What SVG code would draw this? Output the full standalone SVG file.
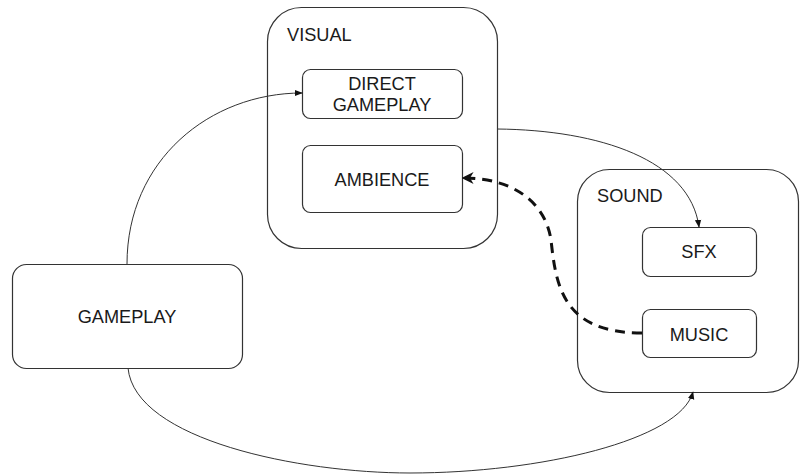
<svg xmlns="http://www.w3.org/2000/svg" width="800" height="475" viewBox="0 0 800 475">
<defs>
<marker id="arr" viewBox="0 0 10 10" refX="9" refY="5" markerWidth="8" markerHeight="8" markerUnits="userSpaceOnUse" orient="auto">
<path d="M0,1 L10,5 L0,9 Z" fill="#111"/>
</marker>
<marker id="arrb" viewBox="0 0 10 10" refX="8" refY="5" markerWidth="4" markerHeight="4" orient="auto">
<path d="M0,0 L10,5 L0,10 L3,5 Z" fill="#111"/>
</marker>
</defs>
<style>
.box{fill:#fff;stroke:#333;stroke-width:1.2}
.t{font-family:"Liberation Sans",Arial,sans-serif;font-size:18.2px;fill:#1a1a1a}
.c{text-anchor:middle}
.ln{fill:none;stroke:#333;stroke-width:1}
.dash{fill:none;stroke:#111;stroke-width:3;stroke-dasharray:10 7}
</style>
<g id="visual">
<rect class="box" x="267.5" y="7.5" width="230" height="241" rx="34"/>
<text class="t" x="287" y="41">VISUAL</text>
</g>
<g id="direct-gameplay">
<rect class="box" x="302.5" y="69.5" width="160" height="49" rx="8"/>
<text class="t c" x="382" y="90">DIRECT</text>
<text class="t c" x="382" y="111">GAMEPLAY</text>
</g>
<g id="ambience">
<rect class="box" x="302.5" y="145.5" width="160" height="67" rx="8"/>
<text class="t c" x="382" y="186">AMBIENCE</text>
</g>
<g id="sound">
<rect class="box" x="577.5" y="169.5" width="221" height="223" rx="32"/>
<text class="t" x="597" y="202">SOUND</text>
</g>
<g id="sfx">
<rect class="box" x="642.5" y="227.5" width="114" height="49" rx="8"/>
<text class="t c" x="699" y="258">SFX</text>
</g>
<g id="music">
<rect class="box" x="642.5" y="309.5" width="114" height="48" rx="8"/>
<text class="t c" x="699" y="341">MUSIC</text>
</g>
<g id="gameplay">
<rect class="box" x="12.5" y="264.5" width="230" height="104" rx="14"/>
<text class="t c" x="127" y="323">GAMEPLAY</text>
</g>
<g id="connectors">
<path class="ln" d="M127,264 C127,160 210,93 302,93" marker-end="url(#arr)"/>
<path class="ln" d="M497,129 C600,130 690,160 699,227" marker-end="url(#arr)"/>
<path class="ln" d="M128,368 C135,440 300,473 410,473 C540,473 680,440 693,392" marker-end="url(#arr)"/>
<path class="dash" d="M642,333 C562,333 556,285 551,240 C545,200 510,178 464,178" marker-end="url(#arrb)"/>
</g>
</svg>
